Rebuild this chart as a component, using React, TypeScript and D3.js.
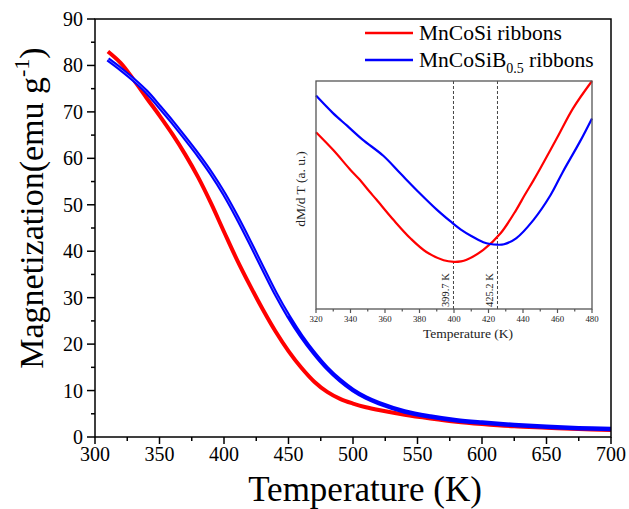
import React from 'react';
import * as d3 from 'd3';

// ---- main chart data ----
const mainT = [310, 320, 330, 340, 350, 360, 370, 380, 390, 400, 410, 420, 430, 440, 450, 460, 470, 480, 490, 500, 510, 520, 540, 560, 580, 600, 625, 650, 675, 700];
const redM = [83.0, 80.5, 76.9, 73.0, 69.2, 65.2, 60.8, 55.9, 50.3, 44.2, 38.2, 32.7, 27.5, 22.7, 18.5, 14.9, 11.9, 9.7, 8.2, 7.2, 6.4, 5.8, 4.8, 4.0, 3.3, 2.8, 2.3, 2.0, 1.7, 1.5];
const blueM = [81.3, 79.2, 76.9, 74.3, 71.1, 67.8, 64.3, 60.7, 56.8, 52.4, 47.4, 42.0, 36.4, 30.9, 26.0, 21.7, 18.0, 14.8, 12.2, 10.1, 8.5, 7.3, 5.5, 4.4, 3.6, 3.1, 2.6, 2.2, 1.9, 1.7];
const xTicks = [300, 350, 400, 450, 500, 550, 600, 650, 700];
const yTicks = [0, 10, 20, 30, 40, 50, 60, 70, 80, 90];

// ---- inset data ----
const redInsetT = [320, 330, 340, 345, 351, 355, 365, 375, 384, 394, 400, 404, 407, 417, 427, 436, 441, 446, 450, 460, 469, 480];
const redInsetV = [77.5, 69.7, 61.0, 57.0, 51.5, 48.0, 39.0, 30.8, 25.0, 21.4, 20.7, 20.9, 21.5, 25.9, 33.2, 43.4, 50.0, 56.3, 61.6, 75.4, 88.0, 100];
const blueInsetT = [320, 330, 338, 347, 359, 369, 380, 390, 398, 404, 410, 417, 421, 425, 429, 436, 446, 456, 463, 473, 480];
const blueInsetV = [93.6, 85.8, 80.4, 74.3, 67.2, 59.4, 50.9, 43.6, 38.4, 34.8, 32.0, 29.3, 28.5, 28.2, 28.4, 31.0, 39.0, 50.0, 60.0, 73.4, 83.6];
const insetTicks = [320, 340, 360, 380, 400, 420, 440, 460, 480];
const peakT = [399.7, 425.2];
const peakLabels = ['399.7 K', '425.2 K'];

const FONT = 'Liberation Serif';
const RED = '#ff0000';
const BLUE = '#0000ff';

export default function App() {
  // main scales
  const x = d3.scaleLinear().domain([300, 700]).range([95, 611]);
  const y = d3.scaleLinear().domain([0, 90]).range([437, 19]);
  // inset scales
  const ix = d3.scaleLinear().domain([320, 480]).range([316, 592]);
  const iy = d3.scaleLinear().domain([0, 100]).range([309, 81]);

  const curve = d3.curveCatmullRom.alpha(0.5);
  const mainLine = (vals: number[]) =>
    d3.line<number>().x((_, i) => x(mainT[i])).y((v) => y(v)).curve(curve)(vals) || '';
  const insetLine = (ts: number[], vs: number[]) =>
    d3.line<number>().x((_, i) => ix(ts[i])).y((v) => iy(v)).curve(curve)(vs) || '';

  const xMinor = d3.range(325, 700, 50);
  const yMinor = d3.range(5, 90, 10);
  const insetMinor = d3.range(330, 480, 20);

  const blueUpperIdx = mainT.filter((t) => t <= 450).length;
  const blueUpper = mainLine(blueM.slice(0, blueUpperIdx));

  const txt = { fontFamily: FONT };

  return (
    <svg width={629} height={509} style={{ position: 'absolute', left: 0, top: 0, background: '#fff', fontFamily: FONT }}>
      <rect x={0} y={0} width={629} height={509} fill="#fff" />
      {/* main curves */}
      <path d={mainLine(redM)} fill="none" stroke={RED} strokeWidth={4} />
      <path d={mainLine(blueM)} fill="none" stroke={BLUE} strokeWidth={4.5} />
      <path d={blueUpper} fill="none" stroke="#8c8cff" strokeWidth={0.7} />

      {/* main frame */}
      <rect x={95} y={19} width={516} height={418} fill="none" stroke="#000" strokeWidth={1.5} />

      {/* x ticks */}
      {xTicks.map((t) => (
        <g key={'xt' + t}>
          <line x1={x(t)} x2={x(t)} y1={437} y2={444} stroke="#000" strokeWidth={1.5} />
          <text x={x(t)} y={461} fontSize={20} textAnchor="middle" fill="#000" style={txt}>{t}</text>
        </g>
      ))}
      {xMinor.map((t) => (
        <line key={'xm' + t} x1={x(t)} x2={x(t)} y1={437} y2={441} stroke="#000" strokeWidth={1.5} />
      ))}
      {/* y ticks */}
      {yTicks.map((v) => (
        <g key={'yt' + v}>
          <line x1={87} x2={95} y1={y(v)} y2={y(v)} stroke="#000" strokeWidth={1.5} />
          <text x={83} y={y(v) + 7} fontSize={20} textAnchor="end" fill="#000" style={txt}>{v}</text>
        </g>
      ))}
      {yMinor.map((v) => (
        <line key={'ym' + v} x1={91} x2={95} y1={y(v)} y2={y(v)} stroke="#000" strokeWidth={1.5} />
      ))}

      {/* axis titles */}
      <text x={365} y={501} fontSize={35} textAnchor="middle" fill="#000" style={txt}>Temperature (K)</text>
      <text transform="translate(43,208) rotate(-90)" fontSize={34} textAnchor="middle" fill="#000" style={txt}>
        Magnetization(emu g<tspan fontSize={22} dy={-14}>-1</tspan><tspan dy={14}>)</tspan>
      </text>

      {/* legend */}
      <line x1={365} x2={413} y1={33} y2={33} stroke={RED} strokeWidth={2.5} />
      <text x={419} y={40} fontSize={21.5} fill="#000" style={txt}>MnCoSi ribbons</text>
      <line x1={365} x2={413} y1={60} y2={60} stroke={BLUE} strokeWidth={2.5} />
      <text x={419} y={67} fontSize={21.5} fill="#000" style={txt}>
        MnCoSiB<tspan fontSize={14} dy={6}>0.5</tspan><tspan dy={-6}> ribbons</tspan>
      </text>

      {/* inset */}
      <rect x={316} y={81} width={276} height={228} fill="#fff" stroke="none" />
      {peakT.map((t) => (
        <line key={'pk' + t} x1={ix(t)} x2={ix(t)} y1={81} y2={309} stroke="#444" strokeWidth={1} strokeDasharray="3,2" />
      ))}
      <path d={insetLine(redInsetT, redInsetV)} fill="none" stroke={RED} strokeWidth={2.2} />
      <path d={insetLine(blueInsetT, blueInsetV)} fill="none" stroke={BLUE} strokeWidth={2.2} />
      <rect x={316} y={81} width={276} height={228} fill="none" stroke="#555" strokeWidth={1.3} />
      {insetTicks.map((t) => (
        <g key={'it' + t}>
          <line x1={ix(t)} x2={ix(t)} y1={309} y2={313} stroke="#555" strokeWidth={1.2} />
          <text x={ix(t)} y={322} fontSize={8.8} textAnchor="middle" fill="#222" style={txt}>{t}</text>
        </g>
      ))}
      {insetMinor.map((t) => (
        <line key={'im' + t} x1={ix(t)} x2={ix(t)} y1={309} y2={311.5} stroke="#555" strokeWidth={1.2} />
      ))}
      {peakT.map((t, i) => (
        <text key={'pl' + t} transform={`translate(${ix(t) - 4},307) rotate(-90)`} fontSize={10.5} fill="#222" style={txt}>{peakLabels[i]}</text>
      ))}
      <text x={468} y={338} fontSize={13.5} textAnchor="middle" fill="#222" style={txt}>Temperature (K)</text>
      <text transform="translate(305,189) rotate(-90)" fontSize={13.5} textAnchor="middle" fill="#222" style={txt}>dM/d T (a. u.)</text>
    </svg>
  );
}
